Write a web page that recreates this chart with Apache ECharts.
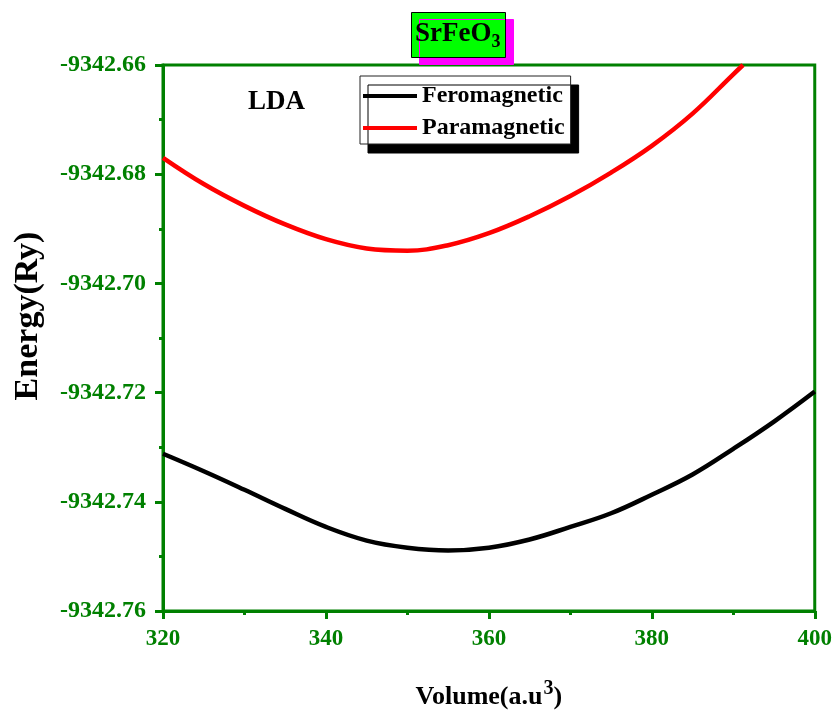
<!DOCTYPE html>
<html>
<head>
<meta charset="utf-8">
<title>SrFeO3 energy vs volume (LDA)</title>
<script src="https://cdn.jsdelivr.net/npm/echarts@6/dist/echarts.min.js"></script>
<style>
  html, body { margin: 0; padding: 0; background: #fff; }
  #chart { width: 835px; height: 715px; }
</style>
</head>
<body>
<div id="chart"></div>
<script>
// Volume grid (a.u^3) for the ferromagnetic curve
const feroVolume = [320, 325, 330, 335, 340, 345, 350, 355, 360, 365, 370, 375, 380, 385, 390, 395, 400];
// Total energy (Ry), ferromagnetic state
const feroEnergy = [
  -9342.7312, -9342.7344, -9342.7378, -9342.7413, -9342.7446, -9342.7471,
  -9342.7484, -9342.7489, -9342.7484, -9342.7469, -9342.7446, -9342.7421,
  -9342.7387, -9342.7350, -9342.7303, -9342.7253, -9342.7198
];
// Volume grid (a.u^3) for the paramagnetic curve (leaves the frame at the top)
const paraVolume = [320, 325, 330, 335, 340, 345, 350, 355, 360, 365, 370, 375, 380, 385, 390, 391.2];
// Total energy (Ry), paramagnetic state
const paraEnergy = [
  -9342.6770, -9342.6818, -9342.6858, -9342.6892, -9342.6919, -9342.6936,
  -9342.6940, -9342.6930, -9342.6908, -9342.6877, -9342.6840, -9342.6797,
  -9342.6748, -9342.6689, -9342.6617, -9342.6600
];
const seriesNames = ['Feromagnetic', 'Paramagnetic'];
const xTicks = { min: 320, max: 400, step: 20 };
const yTicks = { min: -9342.76, max: -9342.66, step: 0.02 };

const FONT = 'Liberation Serif';
const GREEN = '#008000';

const pairs = (xs, ys) => xs.map((x, i) => [x, ys[i]]);

const chart = echarts.init(document.getElementById('chart'), null, { renderer: 'canvas' });

chart.setOption({
  backgroundColor: '#ffffff',
  animation: false,
  title: {
    text: '{a|SrFeO}{b|3}',
    left: 411,
    top: 9,
    padding: [8, 5, 7, 4],
    backgroundColor: '#00ff00',
    borderColor: '#000000',
    borderWidth: 1,
    shadowColor: '#ff00ff',
    shadowBlur: 0,
    shadowOffsetX: 8,
    shadowOffsetY: 7,
    textStyle: {
      rich: {
        a: { fontFamily: FONT, fontWeight: 'bold', fontSize: 27, color: '#000', lineHeight: 34 },
        b: { fontFamily: FONT, fontWeight: 'bold', fontSize: 18, color: '#000', verticalAlign: 'bottom', padding: [12, 0, 0, 0] }
      }
    }
  },
  legend: {
    data: seriesNames.map(n => ({ name: n, icon: 'rect' })),
    orient: 'vertical',
    left: 360,
    top: 76,
    padding: [8, 6, 4, 3],
    itemGap: 8,
    itemWidth: 54,
    itemHeight: 4,
    backgroundColor: '#ffffff',
    borderColor: '#222222',
    borderWidth: 1,
    shadowColor: '#000000',
    shadowBlur: 0,
    shadowOffsetX: 8,
    shadowOffsetY: 9,
    textStyle: { fontFamily: FONT, fontWeight: 'bold', fontSize: 24, color: '#000', lineHeight: 24 }
  },
  grid: {
    left: 163, right: 20, top: 65, bottom: 102,
    show: true,
    borderColor: GREEN,
    borderWidth: 3,
    backgroundColor: 'transparent'
  },
  xAxis: {
    type: 'value',
    min: xTicks.min, max: xTicks.max, interval: xTicks.step,
    name: '{n|Volume(a.u}{s|3}{n|)}',
    nameLocation: 'middle',
    nameGap: 63,
    nameTextStyle: {
      rich: {
        n: { fontFamily: FONT, fontWeight: 'bold', fontSize: 26, color: '#000', padding: [10, 0, 0, 0] },
        s: { fontFamily: FONT, fontWeight: 'bold', fontSize: 20, color: '#000', padding: [0, 0, 6, 1] }
      }
    },
    axisLine: { show: true, lineStyle: { color: GREEN, width: 3 } },
    axisTick: { show: true, inside: false, length: 8, lineStyle: { color: GREEN, width: 3 } },
    minorTick: { show: true, splitNumber: 2, length: 4, lineStyle: { color: GREEN, width: 3 } },
    axisLabel: {
      margin: 17,
      color: GREEN,
      fontFamily: FONT, fontWeight: 'bold', fontSize: 23,
      formatter: v => String(v)
    },
    splitLine: { show: false }
  },
  yAxis: {
    type: 'value',
    min: yTicks.min, max: yTicks.max, interval: yTicks.step,
    name: 'Energy(Ry)',
    nameLocation: 'middle',
    nameGap: 118,
    nameRotate: 90,
    nameTextStyle: {
      fontFamily: FONT, fontWeight: 'bold', fontSize: 34, color: '#000',
      padding: [0, 0, 0, 44]
    },
    axisLine: { show: true, lineStyle: { color: GREEN, width: 3 } },
    axisTick: { show: true, inside: false, length: 8, lineStyle: { color: GREEN, width: 3 } },
    minorTick: { show: true, splitNumber: 2, length: 4, lineStyle: { color: GREEN, width: 3 } },
    axisLabel: {
      margin: 17,
      color: GREEN,
      fontFamily: FONT, fontWeight: 'bold', fontSize: 24,
      formatter: v => v.toFixed(2)
    },
    splitLine: { show: false }
  },
  graphic: [
    {
      type: 'text',
      left: 248,
      top: 89,
      style: { text: 'LDA', fontFamily: FONT, fontWeight: 'bold', fontSize: 27, fill: '#000' }
    }
  ],
  series: [
    {
      name: seriesNames[0],
      type: 'line',
      data: pairs(feroVolume, feroEnergy),
      smooth: 0.4,
      showSymbol: false,
      symbol: 'none',
      clip: true,
      lineStyle: { color: '#000000', width: 4.5 },
      itemStyle: { color: '#000000' }
    },
    {
      name: seriesNames[1],
      type: 'line',
      data: pairs(paraVolume, paraEnergy),
      smooth: 0.4,
      showSymbol: false,
      symbol: 'none',
      clip: true,
      lineStyle: { color: '#ff0000', width: 4.5 },
      itemStyle: { color: '#ff0000' }
    }
  ]
});
</script>
</body>
</html>
